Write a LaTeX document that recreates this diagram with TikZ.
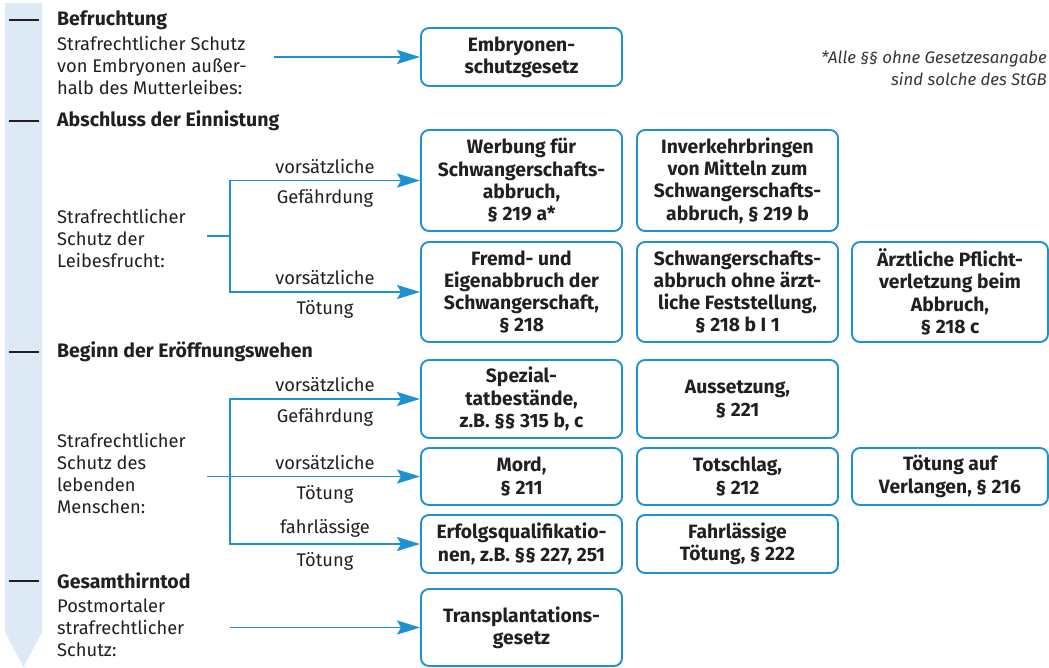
\documentclass[tikz,border=0pt]{standalone}
\usepackage{fontspec}
\setmainfont{Fira Sans}
\usetikzlibrary{arrows.meta}
\definecolor{myblue}{RGB}{30,145,210}
\definecolor{txt}{RGB}{35,31,32}
\definecolor{barblue}{RGB}{221,233,245}
\begin{document}
\begin{tikzpicture}[x=1pt,y=-1pt,
  box/.style={draw=myblue, line width=1.9pt, rounded corners=8pt, align=center,
    font=\fontsize{19.3}{22.3}\selectfont\bfseries, text=txt, inner sep=0pt, minimum width=201pt},
  lbl/.style={font=\fontsize{18.3}{22}\selectfont, text=txt, inner sep=0pt},
  head/.style={font=\fontsize{19.5}{22}\selectfont\bfseries, text=txt, inner sep=0pt, anchor=west},
  leftblk/.style={font=\fontsize{18.3}{22}\selectfont, text=txt, inner sep=0pt, anchor=west, align=left},
  conn/.style={draw=myblue, line width=1.9pt},
  arr/.style={conn, -{Stealth[length=23pt,width=14pt,inset=4pt]}},
  tickmark/.style={draw=txt, line width=2pt}
]
\useasboundingbox (0,0) rectangle (1049,667);
% timeline bar
\fill[barblue] (5,3) -- (42,3) -- (42,632) -- (23.5,667) -- (5,632) -- cycle;
\draw[tickmark] (9,20) -- (39,20);
\draw[tickmark] (9,121) -- (39,121);
\draw[tickmark] (9,352) -- (39,352);
\draw[tickmark] (9,581) -- (39,581);
% headings
\node[head] (h1) at (57,20) {Befruchtung};
\node[head] (h2) at (57,121) {Abschluss der Einnistung};
\node[head] (h3) at (57,352) {Beginn der Eröffnungswehen};
\node[head] (h4) at (57,581) {Gesamthirntod};
% left texts
\node[leftblk] (t1) at (57,65) {Strafrechtlicher Schutz\\von Embryonen außer-\\halb des Mutterleibes:};
\node[leftblk] (t2) at (57,238) {Strafrechtlicher\\Schutz der\\Leibesfrucht:};
\node[leftblk] (t3) at (57,473) {Strafrechtlicher\\Schutz des\\lebenden\\Menschen:};
\node[leftblk] (t4) at (57,628) {Postmortaler\\strafrechtlicher\\Schutz:};
% footnote
\node[anchor=east, align=right, inner sep=0pt, text=txt!90,
  font=\fontsize{16.8}{22}\selectfont\itshape] (fn) at (1047,68)
  {*Alle §§ ohne Gesetzesangabe\\sind solche des StGB};
% boxes
\node[box, minimum height=58pt] (embryo) at (521.5,57) {Embryonen-\\schutzgesetz};
\node[box, minimum height=101pt] (werbung) at (521.5,180.5) {Werbung für\\Schwangerschafts-\\abbruch,\\§ 219 a*};
\node[box, minimum height=101pt] (inverkehr) at (737.5,180.5) {Inverkehrbringen\\von Mitteln zum\\Schwangerschafts-\\abbruch, § 219 b};
\node[box, minimum height=100pt] (fremd) at (521.5,292) {Fremd- und\\Eigenabbruch der\\Schwangerschaft,\\§ 218};
\node[box, minimum height=100pt] (ohne) at (737.5,292) {Schwangerschafts-\\abbruch ohne ärzt-\\liche Feststellung,\\§ 218 b I 1};
\node[box, minimum height=100pt, minimum width=196pt] (arzt) at (950,292) {Ärztliche Pflicht-\\verletzung beim\\Abbruch,\\§ 218 c};
\node[box, minimum height=78pt] (spezial) at (521.5,399) {Spezial-\\tatbestände,\\z.B. §§ 315 b, c};
\node[box, minimum height=78pt] (aussetz) at (737.5,399) {Aussetzung,\\§ 221};
\node[box, minimum height=57pt] (mord) at (521.5,476.5) {Mord,\\§ 211};
\node[box, minimum height=57pt] (totschlag) at (737.5,476.5) {Totschlag,\\§ 212};
\node[box, minimum height=57pt, minimum width=196pt] (verlangen) at (950,476.5) {Tötung auf\\Verlangen, § 216};
\node[box, minimum height=58pt] (erfolg) at (521.5,544) {Erfolgsqualifikatio-\\nen, z.B. §§ 227, 251};
\node[box, minimum height=58pt] (fahr) at (737.5,544) {Fahrlässige\\Tötung, § 222};
\node[box, minimum height=77pt] (transpl) at (521.5,627.5) {Transplantations-\\gesetz};
% connectors
\coordinate (s1) at (274,57);
\draw[arr] (s1) -- (embryo.west);
\coordinate (f1) at (207,236);
\coordinate (j1) at (230,236);
\draw[conn] (f1) -- (j1);
\draw[arr] (j1) |- (werbung.west);
\draw[arr] (j1) |- (fremd.west);
\coordinate (f2) at (207,476.5);
\coordinate (j2) at (230,476.5);
\draw[arr] (f2) -- (mord.west);
\draw[arr] (j2) |- (spezial.west);
\draw[arr] (j2) |- (erfolg.west);
\coordinate (s4) at (230,627.5);
\draw[arr] (s4) -- (transpl.west);
% branch labels
\node[lbl] (l1a) at (325,166) {vorsätzliche};
\node[lbl] (l1b) at (325,198) {Gefährdung};
\node[lbl] (l2a) at (325,277) {vorsätzliche};
\node[lbl] (l2b) at (325,309) {Tötung};
\node[lbl] (l3a) at (325,384) {vorsätzliche};
\node[lbl] (l3b) at (325,417) {Gefährdung};
\node[lbl] (l4a) at (325,462) {vorsätzliche};
\node[lbl] (l4b) at (325,494) {Tötung};
\node[lbl] (l5a) at (325,528) {fahrlässige};
\node[lbl] (l5b) at (325,561) {Tötung};
\end{tikzpicture}
\end{document}
